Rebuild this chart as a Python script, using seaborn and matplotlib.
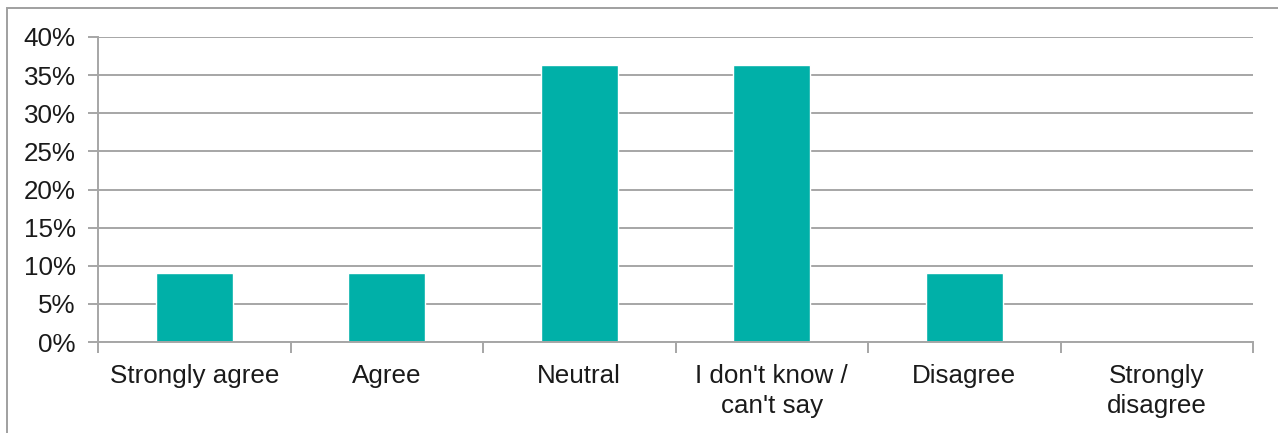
import matplotlib
matplotlib.use("Agg")
import matplotlib.pyplot as plt
from matplotlib.patches import Rectangle
from matplotlib.ticker import PercentFormatter
import seaborn as sns
import pandas as pd

categories = ["Strongly agree", "Agree", "Neutral", "I don't know /\ncan't say",
              "Disagree", "Strongly\ndisagree"]
shares = [9.09, 9.09, 36.36, 36.36, 9.09, 0.0]
y_ticks = [0, 5, 10, 15, 20, 25, 30, 35, 40]

df = pd.DataFrame({"category": categories, "share": shares})

sns.set_theme(style="white")
plt.rcParams["font.family"] = ["Liberation Sans", "DejaVu Sans"]

fig = plt.figure(figsize=(12.78, 4.33), dpi=100)
ax = fig.add_axes([98 / 1278, 1 - 342 / 433, (1253 - 98) / 1278, (342 - 37) / 433])

grid_c = "#a6a6a6"
ax.set_axisbelow(True)
ax.yaxis.grid(True, color=grid_c, linewidth=1.4)

sns.barplot(data=df, x="category", y="share", color="#00b0a8", saturation=1,
            width=0.40, ax=ax)

ax.set_ylim(0, 40)
ax.set_xlim(-0.5, len(categories) - 0.5)
ax.set_yticks(y_ticks)
ax.yaxis.set_major_formatter(PercentFormatter(decimals=0))
ax.set_xlabel("")
ax.set_ylabel("")

for side in ("top", "right"):
    ax.spines[side].set_visible(False)
for side in ("left", "bottom"):
    ax.spines[side].set_color(grid_c)
    ax.spines[side].set_linewidth(1.4)

# category separators as ticks below the baseline
ax.set_xticks([i - 0.5 for i in range(len(categories) + 1)], minor=True)
ax.tick_params(axis="x", which="minor", length=8, width=1.4, color=grid_c,
               direction="out", bottom=True)
ax.tick_params(axis="x", which="major", length=0, pad=16, labelsize=18.7,
               labelcolor="#1a1a1a")
ax.tick_params(axis="y", which="major", length=7, width=1.4, color=grid_c,
               direction="out", left=True, pad=9, labelsize=18.7,
               labelcolor="#1a1a1a")
for lab in ax.get_xticklabels():
    lab.set_linespacing(1.32)

# outer chart frame
fig.patches.append(Rectangle((7 / 1278, -0.5), 2, 0.5 + 1 - 8 / 433,
                             transform=fig.transFigure, fill=False,
                             edgecolor="#a0a0a0", linewidth=1.4))

fig.savefig("out.png", dpi=100, facecolor="white")
